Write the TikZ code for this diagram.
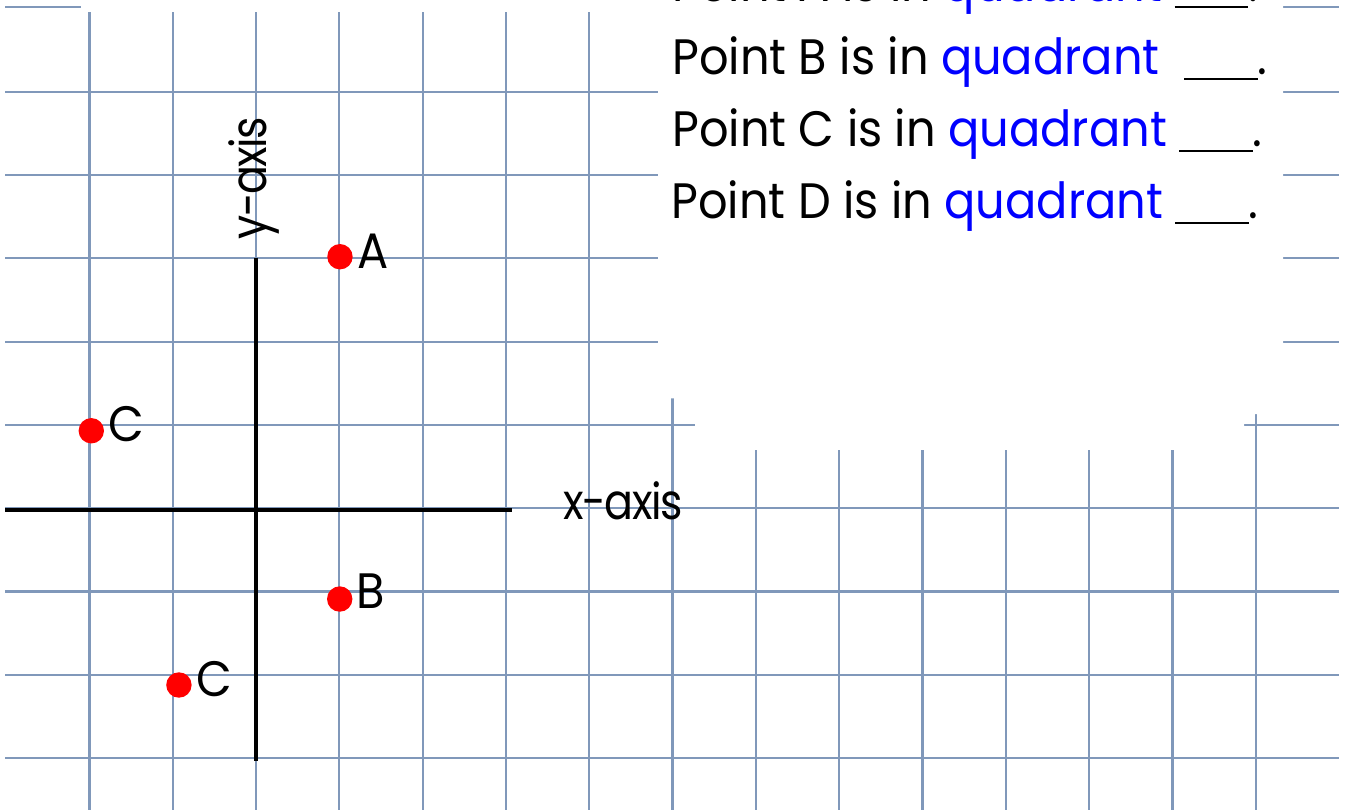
\documentclass[tikz,border=0pt]{standalone}
\usepackage{fontspec}
\setmainfont{Poppins}[FakeStretch=0.93]
\newfontfamily\axisfont{Poppins}[FakeStretch=0.86, LetterSpace=-3]
\usepackage{xcolor}
\usetikzlibrary{positioning}

\definecolor{gridblue}{RGB}{128,152,186}
\definecolor{qblue}{RGB}{0,0,255}
\definecolor{ptred}{RGB}{255,0,0}
\newcommand{\blank}{\rule[-0.07cm]{0.88cm}{0.7pt}}

\begin{document}
\begin{tikzpicture}[x=1cm, y=1cm, node distance=0.04cm,
    gridline/.style={draw=gridblue, line width=0.75pt},
    axisline/.style={draw=black, line width=1.25pt},
    ptdot/.style={circle, fill=ptred, inner sep=0pt, minimum size=0.305cm},
    ptlabel/.style={inner sep=0pt, font=\fontsize{17}{20}\selectfont},
    axislabel/.style={inner sep=0pt, font=\axisfont\fontsize{17}{20}\selectfont},
    qline/.style={anchor=base west, inner sep=0pt, font=\fontsize{17}{20}\selectfont}]
  \useasboundingbox (-3.074,-3.611) rectangle (13.108,6.101);
  \clip (-3.074,-3.611) rectangle (13.108,6.101);
  % grid paper
  \foreach \y in {-3,...,5}
    \draw[gridline] (-3.01,\y) -- (13.0,\y);
  \foreach \x in {-2,...,12}
    \draw[gridline] (\x,-3.7) -- (\x,5.96);
  \draw[gridline] (-3.01,6.02) -- (-2.1,6.02);
  \draw[gridline] (12.33,6.02) -- (13.0,6.02);
  % text box over the grid
  \fill[white] (4.825,6.2) -- (12.33,6.2) -- (12.33,1.13) -- (11.86,1.13) -- (11.86,0.70)
    -- (5.27,0.70) -- (5.27,1.32) -- (4.825,1.32) -- cycle;
  % axes
  \draw[axisline] (-3.01,-0.02) -- (3.07,-0.02);
  \draw[axisline] (0,3.0) -- (0,-3.04);
  \node[axislabel, rotate=90, anchor=base] (ylab) at (0.13,3.96) {y-axis};
  \node[axislabel, anchor=base west] (xlab) at (3.685,-0.133) {x-axis};
  % points
  \node[ptdot] (a) at (1.007,3.019) {};
  \node[ptdot] (b) at (1.004,-1.09) {};
  \node[ptdot] (c1) at (-1.978,0.93) {};
  \node[ptdot] (c2) at (-0.926,-2.122) {};
  \node[ptlabel, right=of a, yshift=0.07cm] (la) {A};
  \node[ptlabel, right=of b, yshift=0.09cm] (lb) {B};
  \node[ptlabel, right=of c1, yshift=0.075cm] (lc1) {C};
  \node[ptlabel, right=of c2, yshift=0.075cm] (lc2) {C};
  % questions
  \node[qline] (qa) at (4.99,6.079) {Point A is in \textcolor{qblue}{quadrant} \blank.};
  \node[qline] (qb) at (4.99,5.212) {Point B is in \textcolor{qblue}{quadrant}\ \ \blank.};
  \node[qline] (qc) at (4.99,4.348) {Point C is in \textcolor{qblue}{quadrant} \blank.};
  \node[qline] (qd) at (4.98,3.48) {Point D is in \textcolor{qblue}{quadrant} \blank.};
\end{tikzpicture}
\end{document}
